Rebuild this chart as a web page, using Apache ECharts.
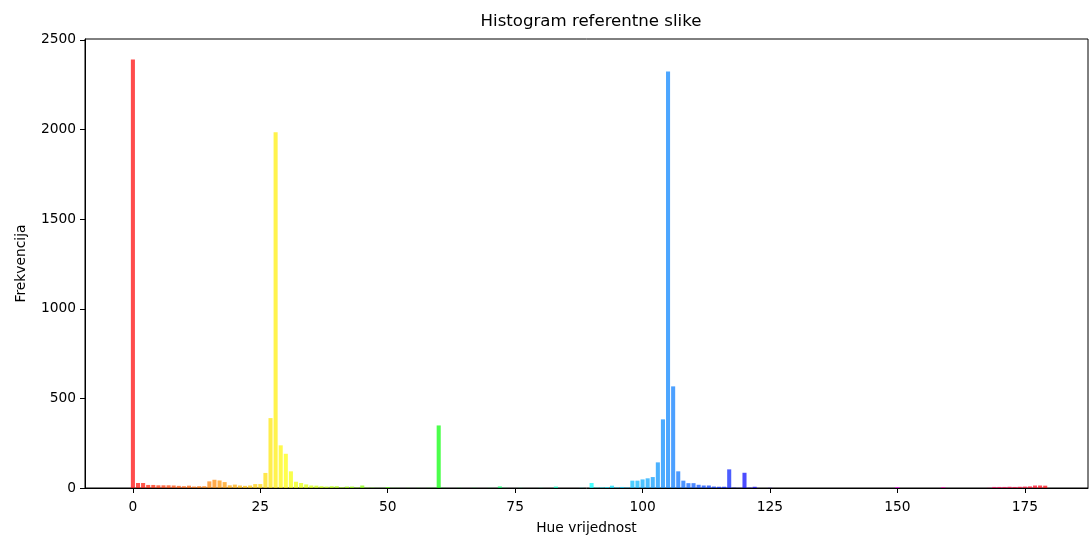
<!DOCTYPE html>
<html>
<head>
<meta charset="utf-8">
<script src="https://cdn.jsdelivr.net/npm/echarts@6/dist/echarts.min.js"></script>
<style>
html,body{margin:0;padding:0;background:#fff;}
#c{width:1090px;height:537px;}
</style>
</head>
<body>
<div id="c"></div>
<script>
// Frequency per hue value (index = hue 0..179)
var counts = [
  2390, 28, 28, 17, 17, 15, 15, 15, 14, 12,
  10, 13, 8, 10, 10, 37, 46, 42, 33, 15,
  19, 14, 12, 14, 22, 22, 84, 390, 1985, 238,
  191, 93, 35, 28, 20, 14, 13, 10, 8, 10,
  10, 4, 8, 8, 3, 14, 2, 2, 1, 1,
  5, 1, 1, 0, 1, 0, 1, 0, 1, 1,
  349, 1, 0, 0, 1, 0, 0, 1, 0, 0,
  1, 0, 9, 1, 0, 0, 1, 0, 0, 0,
  1, 0, 0, 8, 0, 0, 0, 0, 1, 0,
  28, 2, 3, 5, 13, 3, 6, 3, 41, 41,
  48, 54, 61, 143, 383, 2323, 567, 93, 41, 27,
  27, 18, 14, 14, 8, 7, 7, 104, 2, 1,
  85, 2, 7, 0, 0, 1, 0, 0, 0, 0,
  0, 0, 0, 0, 0, 0, 0, 0, 0, 0,
  0, 0, 0, 0, 0, 0, 0, 0, 0, 0,
  5, 0, 0, 0, 0, 0, 0, 0, 0, 5,
  0, 0, 0, 0, 0, 0, 0, 0, 1, 6,
  6, 6, 7, 6, 7, 8, 9, 14, 14, 13
];
var xTicks = [0, 25, 50, 75, 100, 125, 150, 175];
var yTicks = [0, 500, 1000, 1500, 2000, 2500];
var titleText = 'Histogram referentne slike';
var xName = 'Hue vrijednost';
var yName = 'Frekvencija';

function hueColor(h) {
  var deg = h * 2;
  var c = 1, x = 1 - Math.abs((deg / 60) % 2 - 1);
  var r, g, b;
  if (deg < 60) { r = c; g = x; b = 0; }
  else if (deg < 120) { r = x; g = c; b = 0; }
  else if (deg < 180) { r = 0; g = c; b = x; }
  else if (deg < 240) { r = 0; g = x; b = c; }
  else if (deg < 300) { r = x; g = 0; b = c; }
  else { r = c; g = 0; b = x; }
  return 'rgba(' + Math.round(r * 255) + ',' + Math.round(g * 255) + ',' + Math.round(b * 255) + ',0.7)';
}

var data = counts.map(function (v, i) { return [i, v]; });
var font = 'DejaVu Sans';

var chart = echarts.init(document.getElementById('c'), null, {renderer: 'canvas'});
chart.setOption({
  animation: false,
  backgroundColor: '#fff',
  title: {
    text: titleText, left: 586, top: 8, textAlign: 'center',
    textStyle: {fontFamily: font, fontSize: 16.6, fontWeight: 'normal', color: '#000'}
  },
  grid: {left: 85, right: 2, top: 39, bottom: 49, containLabel: false, outerBoundsMode: 'none',
    show: true, borderColor: '#000', borderWidth: 1, backgroundColor: 'transparent'},
  xAxis: {
    type: 'value', min: -9.4, max: 187.4,
    name: xName, nameLocation: 'middle', nameGap: 33,
    nameTextStyle: {fontFamily: font, fontSize: 13.8, color: '#000'},
    axisLine: {show: true, onZero: false, lineStyle: {color: '#000', width: 1}},
    axisTick: {show: true, length: 5, lineStyle: {color: '#000'}, customValues: xTicks},
    axisLabel: {fontFamily: font, fontSize: 13.8, color: '#000', margin: 12, customValues: xTicks,
      formatter: function (v) { return String(v); }},
    splitLine: {show: false}
  },
  yAxis: {
    type: 'value', min: 0, max: 2505,
    name: yName, nameLocation: 'middle', nameGap: 57, nameRotate: 90,
    nameTextStyle: {fontFamily: font, fontSize: 13.8, color: '#000'},
    axisLine: {show: true, onZero: false, lineStyle: {color: '#000', width: 1}},
    axisTick: {show: true, length: 5, lineStyle: {color: '#000'}, customValues: yTicks},
    axisLabel: {fontFamily: font, fontSize: 13.8, color: '#000', margin: 9, customValues: yTicks,
      formatter: function (v) { return String(v); }},
    splitLine: {show: false}
  },
  series: [{
    type: 'bar',
    data: data,
    barWidth: 4.07,
    itemStyle: {
      color: function (p) { return hueColor(p.data[0]); }
    }
  }]
});
</script>
</body>
</html>
